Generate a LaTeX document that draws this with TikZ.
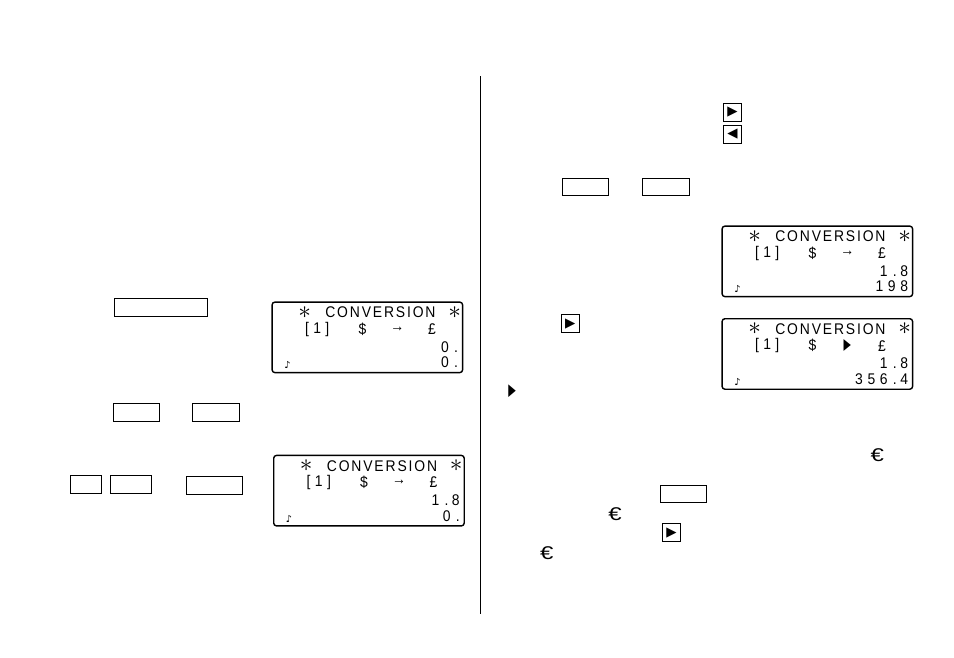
\documentclass[tikz,border=0pt]{standalone}
\usepackage{fontspec}
\usepackage{graphicx}
\setmainfont{Liberation Sans}
\newfontfamily\lcdfont[LetterSpace=12,FakeStretch=0.9]{Liberation Sans}
\newfontfamily\numfont[LetterSpace=30,FakeStretch=0.9]{Liberation Sans}
\newfontfamily\symfont{DejaVu Sans}
\newcommand{\lcddot}{\hspace{3pt}.\hspace{2pt}}
\newcommand{\thintri}{{\symfont\scalebox{.62}[1]{▶}}}
\tikzset{
  keybox/.style n args={2}{draw,line width=0.6pt,inner sep=0pt,minimum width=#1*0.02cm,minimum height=#2*0.02cm,font=\symfont\fontsize{7.6}{8}\selectfont},
  lcdbox/.style={draw,line width=0.8pt,rounded corners=1.6pt,inner sep=0pt,minimum width=190.5*0.02cm,minimum height=70.5*0.02cm},
  lcdtext/.style={inner sep=0pt,font=\lcdfont\fontsize{8.8}{9}\selectfont},
  lcdnum/.style={inner sep=0pt,anchor=east,font=\numfont\fontsize{8.8}{9}\selectfont},
  euro/.style={inner sep=0pt,font=\fontsize{10.5}{12}\selectfont}
}
\newcommand{\euromark}{\scalebox{1.3}[1]{€}}
% one display: name, left, top, third row, fourth row, sign between the currencies
\newcommand{\lcd}[6]{
  \begin{scope}[shift={(#2,#3)}]
    \node[lcdbox,anchor=north west] (#1box) at (0,0) {};
    \node[lcdtext] (#1stara) at (33.3,11) {\fontsize{14}{14}\selectfont$\ast$};
    \node[lcdtext] (#1title) at (109,11) {CONVERSION};
    \node[lcdtext] (#1starb) at (183.3,11) {\fontsize{14}{14}\selectfont$\ast$};
    \node[lcdtext] (#1memo) at (45.8,27.7) {[\hspace{2.5pt}1\hspace{2.5pt}]};
    \node[lcdtext] (#1from) at (91,27.7) {\$};
    \node[lcdtext] (#1sign) at (126,27.7) {#6};
    \node[lcdtext] (#1to) at (160.6,27.7) {£};
    \node[lcdnum] (#1rate) at (187,45.5) {#4};
    \node[lcdnum] (#1result) at (187,61) {#5};
    \node[inner sep=0pt,font=\symfont\bfseries\fontsize{5.5}{6}\selectfont] (#1note) at (16,64) {♪};
  \end{scope}
}
\begin{document}
\begin{tikzpicture}[x=0.02cm,y=-0.02cm]
  \useasboundingbox (0,0) rectangle (954,657);
  % divider
  \coordinate (dtop) at (480.5,76);
  \coordinate (dbottom) at (480.5,614);
  \draw[line width=0.6pt] (dtop) -- (dbottom);
  % left column
  \node[keybox={93.4}{18.4}] (keywide) at (161,307.5) {};
  \node[keybox={46.4}{18.4}] (keya) at (136.5,412.5) {};
  \node[keybox={47.4}{18.4}] (keyb) at (216,412.5) {};
  \node[keybox={31.4}{18.4}] (keyc) at (86,484.5) {};
  \node[keybox={41.4}{18.4}] (keyd) at (131,484.5) {};
  \node[keybox={56.4}{18.4}] (keye) at (214.5,485.5) {};
  \lcd{first}{271.4}{301.4}{0\lcddot}{0\lcddot}{→}
  \lcd{second}{273}{454.7}{1\lcddot 8}{0\lcddot}{→}
  % right column
  \node[keybox={18.4}{17.7}] (keyright) at (732.5,112.2) {▶};
  \node[keybox={18.4}{17.7}] (keyleft) at (732.5,134.2) {◀};
  \node[keybox={46.4}{17.4}] (keyf) at (585.5,187) {};
  \node[keybox={47.4}{17.4}] (keyg) at (666,187) {};
  \lcd{third}{721.4}{225.4}{1\lcddot 8}{198}{→}
  \node[keybox={17.7}{17.7}] (keyrightb) at (570.2,323.8) {▶};
  \lcd{fourth}{721.4}{318}{1\lcddot 8}{356\lcddot 4}{\thintri}
  \node[inner sep=0pt,font=\symfont\fontsize{9}{10}\selectfont] (marker) at (512.2,391) {\scalebox{.62}[1.05]{▶}};
  \node[euro] (euroa) at (877.3,455.5) {\euromark};
  \node[keybox={46.4}{17.4}] (keyh) at (683.5,494) {};
  \node[euro] (eurob) at (615,514) {\euromark};
  \node[keybox={18.4}{17.7}] (keyrightc) at (671.5,532.8) {▶};
  \node[euro] (euroc) at (546.7,553) {\euromark};
\end{tikzpicture}
\end{document}
